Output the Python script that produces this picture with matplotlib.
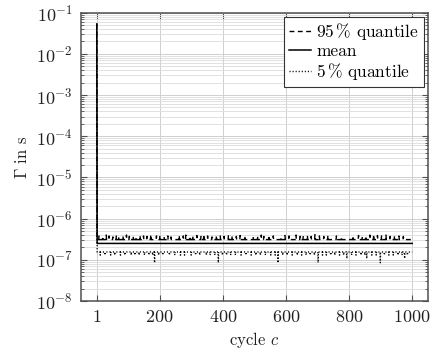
import matplotlib
matplotlib.use("Agg")
import matplotlib.pyplot as plt
import numpy as np
from matplotlib.ticker import LogLocator, NullFormatter

plt.rcParams['font.family'] = 'serif'
plt.rcParams['font.serif'] = ['cmr10', 'DejaVu Serif']
plt.rcParams['mathtext.fontset'] = 'cm'
plt.rcParams['axes.formatter.use_mathtext'] = True

# values (seconds)
n_cycles = 1000
first_cycle = {'q95': 5.5e-2, 'mean': 5.3e-2, 'q05': 5.0e-2}
mean_level = 2.5e-7
q95_level = 3.1e-7
q05_level = 1.55e-7

# cycles where the 95 % quantile spikes upwards
q95_spikes = [8, 20, 31, 40, 52, 63, 71, 84, 95, 104, 117, 126, 138, 149, 160,
              172, 190, 201, 214, 226, 236, 262, 275, 283, 296, 305, 318, 331,
              340, 352, 366, 380, 392, 404, 418, 429, 443, 455, 470, 497, 510,
              522, 530, 546, 560, 584, 597, 610, 632, 645, 655, 668, 680, 692,
              706, 720, 733, 760, 776, 812, 830, 842, 853, 866, 878, 890, 903,
              917, 930, 944, 958, 972]
q95_spike_vals = [3.8e-7, 3.7e-7, 4.0e-7, 3.8e-7, 3.6e-7, 3.9e-7, 3.7e-7, 3.8e-7,
                  4.0e-7, 3.7e-7, 3.8e-7, 3.6e-7, 3.9e-7, 3.8e-7, 3.7e-7, 4.1e-7,
                  3.8e-7, 3.9e-7, 3.7e-7, 3.8e-7, 3.6e-7, 3.9e-7, 3.8e-7, 4.0e-7,
                  3.7e-7, 3.8e-7, 3.9e-7, 3.7e-7, 4.1e-7, 3.8e-7, 3.6e-7, 3.9e-7,
                  3.8e-7, 3.7e-7, 4.0e-7, 3.8e-7, 3.7e-7, 3.9e-7, 3.8e-7, 3.7e-7,
                  3.8e-7, 4.0e-7, 3.7e-7, 3.9e-7, 3.8e-7, 3.6e-7, 3.9e-7, 3.8e-7,
                  4.0e-7, 3.7e-7, 3.8e-7, 3.9e-7, 3.7e-7, 4.1e-7, 3.8e-7, 3.7e-7,
                  3.9e-7, 3.8e-7, 3.6e-7, 3.8e-7, 3.9e-7, 3.7e-7, 3.8e-7, 4.0e-7,
                  4.1e-7, 3.9e-7, 3.8e-7, 4.0e-7, 3.7e-7, 3.9e-7, 3.8e-7, 3.7e-7]

# cycles where the 5 % quantile dips
q05_dips = [12, 27, 45, 58, 76, 90, 110, 122, 135, 152, 166, 178, 197, 210, 231,
            248, 266, 279, 300, 314, 327, 348, 360, 375, 399, 412, 425, 440,
            458, 474, 490, 505, 519, 535, 552, 566, 590, 604, 620, 636, 650,
            664, 677, 690, 716, 728, 742, 755, 770, 783, 808, 822, 838, 850,
            872, 886, 912, 926, 940, 955, 968, 985]
q05_dip_val = 1.3e-7
q05_mid_dips = [793, 856, 976]
q05_mid_val = 1.08e-7
q05_deep_dips = [184, 386, 575, 702, 899]
q05_deep_val = 8.5e-8

cycles = np.arange(1, n_cycles + 1)
q95 = np.full(n_cycles, q95_level)
q95[np.array(q95_spikes) - 1] = q95_spike_vals
mean = np.full(n_cycles, mean_level)
q05 = np.full(n_cycles, q05_level)
q05[np.array(q05_dips) - 1] = q05_dip_val
q05[np.array(q05_mid_dips) - 1] = q05_mid_val
q05[np.array(q05_deep_dips) - 1] = q05_deep_val
q95[0] = first_cycle['q95']
mean[0] = first_cycle['mean']
q05[0] = first_cycle['q05']

fig = plt.figure(figsize=(4.32, 3.53), dpi=100)
ax = fig.add_axes([0.1875, 0.1473, 0.8032, 0.8167])

ax.plot(cycles, q95, color='black', lw=1.0, ls=(0, (3.5, 2.5)), label=r'$95\,\%$ quantile')
ax.plot(cycles, mean, color='black', lw=1.1, ls='-', label='mean')
ax.plot(cycles, q05, color='black', lw=1.0, ls=(0, (0.8, 1.4)), label=r'$5\,\%$ quantile')

ax.set_yscale('log')
ax.set_ylim(1e-8, 1e-1)
ax.set_xlim(-49, 1050)
ax.set_xticks([1, 200, 400, 600, 800, 1000])
ax.yaxis.set_major_locator(LogLocator(base=10, numticks=20))
ax.yaxis.set_minor_locator(LogLocator(base=10, subs=np.arange(2, 10), numticks=100))
ax.yaxis.set_minor_formatter(NullFormatter())

ax.grid(which='major', color='#cfcfcf', lw=0.7)
ax.grid(which='minor', axis='y', color='#dcdcdc', lw=0.6)
ax.set_axisbelow(True)

for s in ax.spines.values():
    s.set_color('#505050')
    s.set_linewidth(1.1)
ax.tick_params(which='both', direction='in', top=True, right=True, colors='#505050',
               labelcolor='#222222', labelsize=13, pad=6)
ax.tick_params(which='major', length=4)
ax.tick_params(which='minor', length=2.5)

ax.set_xlabel(r'cycle $c$', fontsize=12, color='#222222', labelpad=3)
ax.set_ylabel(r'$\Gamma$ in s', fontsize=12, color='#222222', labelpad=4)

leg = ax.legend(loc='upper right', fontsize=12.5, frameon=True, fancybox=False,
                edgecolor='#333333', framealpha=1, handlelength=1.3,
                handletextpad=0.3, labelspacing=0.1, borderpad=0.25,
                borderaxespad=0.25)
leg.get_frame().set_linewidth(0.8)

fig.savefig('out.png', dpi=100)
